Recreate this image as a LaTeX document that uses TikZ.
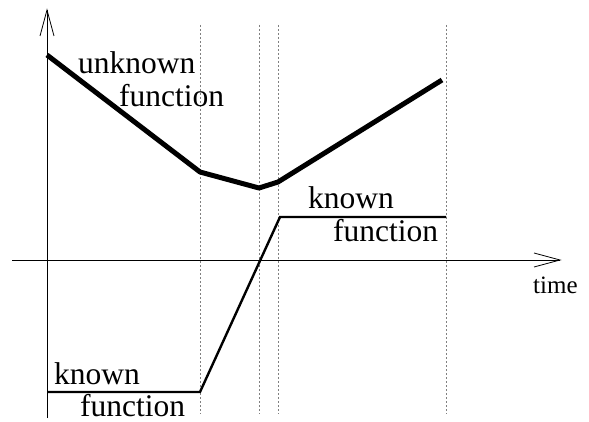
\documentclass[tikz,border=0pt]{standalone}
\usepackage{fontspec}
\setmainfont{Liberation Serif}
\begin{document}
\begin{tikzpicture}[x=1pt,y=-1pt,
  axis/.style={line width=0.8pt,black},
  guide/.style={line width=0.8pt,gray,dash pattern=on 2pt off 2pt},
  unk/.style={line width=5pt,black,line join=round},
  kn/.style={line width=2.4pt,black,line join=miter},
  lbl/.style={anchor=base west,inner sep=0pt,font=\fontsize{31.5}{33}\selectfont},
  tlbl/.style={anchor=base west,inner sep=0pt,font=\fontsize{25}{27}\selectfont}]
\useasboundingbox (0,0) rectangle (589,422);
% axes
\coordinate (yb) at (47,418);
\coordinate (yt) at (47,10);
\coordinate (xl) at (12,260);
\coordinate (xr) at (560,260);
\draw[axis] (yb) -- (yt);
\draw[axis] (40,36) -- (yt) -- (54,36);
\draw[axis] (xl) -- (xr);
\draw[axis] (534,253) -- (xr) -- (534,267);
% guides
\foreach \gx in {200,259,278,446} {
  \draw[guide] (\gx,25) -- (\gx,414);
}
% unknown function
\coordinate (u0) at (47,55);
\coordinate (u1) at (200,172);
\coordinate (u2) at (259,188);
\coordinate (u3) at (278,182);
\coordinate (u4) at (442,80);
\draw[unk] (u0) -- (u1) -- (u2) -- (u3) -- (u4);
% known function
\coordinate (k0) at (47,392);
\coordinate (k1) at (200,392);
\coordinate (k2) at (280,217);
\coordinate (k3) at (446,217);
\draw[kn] (k0) -- (k1) -- (k2) -- (k3);
% labels
\node[lbl] (t1) at (78,74) {unknown};
\node[lbl] (t2) at (119,107) {function};
\node[lbl] (t3) at (308,209) {known};
\node[lbl] (t4) at (333,241) {function};
\node[lbl] (t5) at (54,384) {known};
\node[lbl] (t6) at (80,416) {function};
\node[tlbl] (t7) at (533,293) {time};
\end{tikzpicture}
\end{document}
